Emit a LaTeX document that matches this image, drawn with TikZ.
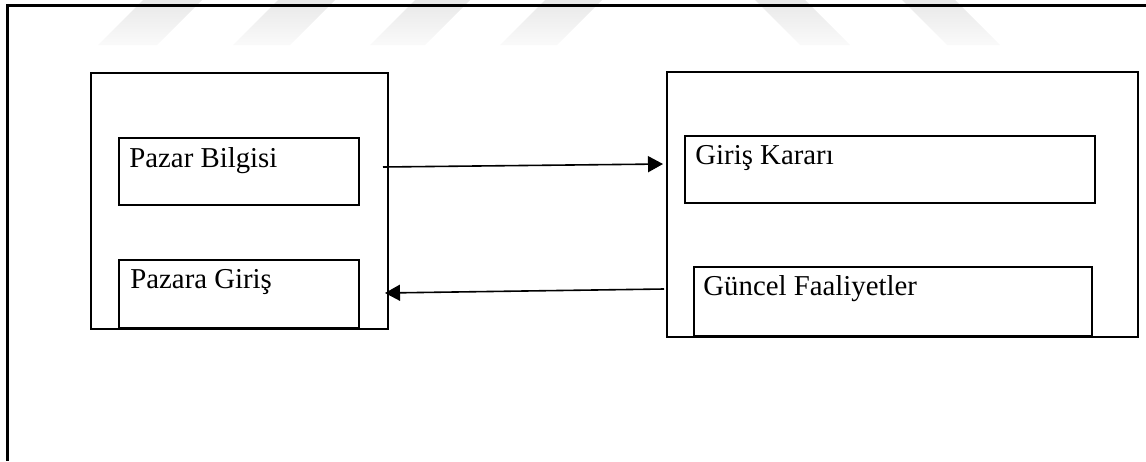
\documentclass[tikz,border=0pt]{standalone}
\usepackage{fontspec}
\setmainfont{Liberation Serif}
\usetikzlibrary{arrows.meta,calc}
\begin{document}
\begin{tikzpicture}[x=0.5pt,y=-0.5pt,
  frame/.style={line width=1.5pt},
  panel/.style={draw,line width=1.2pt,inner sep=0pt,outer sep=0pt,anchor=north west},
  lbl/.style={anchor=base west,inner sep=0pt,font=\fontsize{14.4}{17}\selectfont},
  flow/.style={line width=0.8pt,-{Triangle[length=7.5pt,width=8pt]}},
  stripe/.style={top color=black!9,bottom color=black!2,draw=none}]
\useasboundingbox (0,0) rectangle (1146,461);

% faint diagonal bands along the top edge
\shade[stripe] (98,45) -- (143,0) -- (202,0) -- (157,45) -- cycle;
\shade[stripe] (233,45) -- (278,0) -- (335,0) -- (290,45) -- cycle;
\shade[stripe] (370,45) -- (415,0) -- (470,0) -- (425,45) -- cycle;
\shade[stripe] (500,45) -- (545,0) -- (602,0) -- (557,45) -- cycle;
\shade[stripe] (800,45) -- (755,0) -- (805,0) -- (850,45) -- cycle;
\shade[stripe] (947,45) -- (902,0) -- (955,0) -- (1000,45) -- cycle;

% open outer frame
\draw[frame] (1146,5) -- (7,5) -- (7,461);

% left panel
\node[panel,minimum width=148.5pt,minimum height=128pt] (L) at (91,73) {};
\node[panel,minimum width=120pt,minimum height=33.5pt] (pb) at (119,138) {};
\node[panel,minimum width=120pt,minimum height=34pt] (pg) at (119,260) {};
\node[lbl] (pbt) at ($(pb.north west)+(10,29)$) {Pazar Bilgisi};
\node[lbl] (pgt) at ($(pg.north west)+(11,28)$) {Pazara Giriş};

% right panel
\node[panel,minimum width=235.5pt,minimum height=132.5pt] (R) at (667,72) {};
\node[panel,minimum width=205pt,minimum height=33.5pt] (gk) at (685,136) {};
\node[panel,minimum width=199pt,minimum height=34.5pt] (gf) at (694,267) {};
\node[lbl] (gkt) at ($(gk.north west)+(10,28)$) {Giriş Kararı};
\node[lbl] (gft) at ($(gf.north west)+(9,28)$) {Güncel Faaliyetler};

% connectors between the panels
\coordinate (a1s) at ($(L.north east)+(-5,94)$);
\coordinate (a1e) at ($(R.north west)+(-4,92)$);
\coordinate (a2s) at ($(R.north west)+(-3,217)$);
\coordinate (a2e) at ($(L.north east)+(-3,220)$);
\draw[flow] (a1s) -- (a1e);
\draw[flow] (a2s) -- (a2e);
\end{tikzpicture}
\end{document}
